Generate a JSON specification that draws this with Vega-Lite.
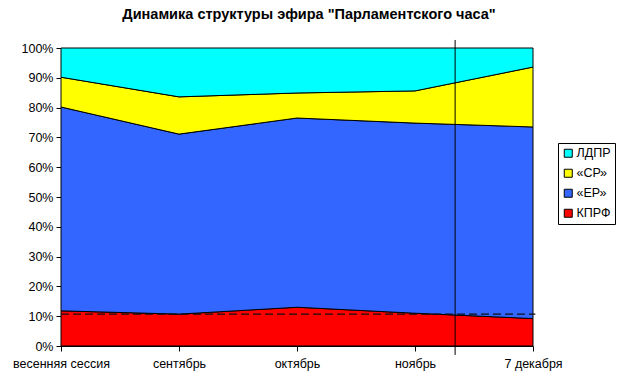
{
  "$schema": "https://vega.github.io/schema/vega-lite/v6.json",
  "width": 472,
  "height": 298,
  "autosize": "none",
  "padding": {"left": 61, "top": 48, "right": 90, "bottom": 42},
  "background": "white",
  "config": {
    "font": "Liberation Sans",
    "view": {"stroke": null},
    "axis": {"labelFont": "Liberation Sans", "labelFontSize": 12.5, "labelColor": "black", "domainColor": "black", "tickColor": "black", "grid": false, "labelOverlap": false, "labelFlush": false, "labelBound": false}
  },
  "title": {
    "text": "Динамика структуры эфира \"Парламентского часа\"",
    "font": "Liberation Sans",
    "fontSize": 14.5,
    "fontWeight": "bold",
    "color": "black",
    "anchor": "middle",
    "dx": 12,
    "offset": 17
  },
  "datasets": {
    "air": [
      {"period": "весенняя сессия", "i": 0, "party": "КПРФ", "rank": 1, "share": 11.8},
      {"period": "весенняя сессия", "i": 0, "party": "«ЕР»", "rank": 2, "share": 68.4},
      {"period": "весенняя сессия", "i": 0, "party": "«СР»", "rank": 3, "share": 10.0},
      {"period": "весенняя сессия", "i": 0, "party": "ЛДПР", "rank": 4, "share": 9.8},
      {"period": "сентябрь", "i": 1, "party": "КПРФ", "rank": 1, "share": 10.7},
      {"period": "сентябрь", "i": 1, "party": "«ЕР»", "rank": 2, "share": 60.4},
      {"period": "сентябрь", "i": 1, "party": "«СР»", "rank": 3, "share": 12.5},
      {"period": "сентябрь", "i": 1, "party": "ЛДПР", "rank": 4, "share": 16.4},
      {"period": "октябрь", "i": 2, "party": "КПРФ", "rank": 1, "share": 13.0},
      {"period": "октябрь", "i": 2, "party": "«ЕР»", "rank": 2, "share": 63.5},
      {"period": "октябрь", "i": 2, "party": "«СР»", "rank": 3, "share": 8.4},
      {"period": "октябрь", "i": 2, "party": "ЛДПР", "rank": 4, "share": 15.1},
      {"period": "ноябрь", "i": 3, "party": "КПРФ", "rank": 1, "share": 11.0},
      {"period": "ноябрь", "i": 3, "party": "«ЕР»", "rank": 2, "share": 63.8},
      {"period": "ноябрь", "i": 3, "party": "«СР»", "rank": 3, "share": 10.8},
      {"period": "ноябрь", "i": 3, "party": "ЛДПР", "rank": 4, "share": 14.4},
      {"period": "7 декабря", "i": 4, "party": "КПРФ", "rank": 1, "share": 9.2},
      {"period": "7 декабря", "i": 4, "party": "«ЕР»", "rank": 2, "share": 64.3},
      {"period": "7 декабря", "i": 4, "party": "«СР»", "rank": 3, "share": 20.1},
      {"period": "7 декабря", "i": 4, "party": "ЛДПР", "rank": 4, "share": 6.4}
    ]
  },
  "layer": [
    {
      "data": {"name": "air"},
      "mark": {"type": "area", "stroke": "black", "strokeWidth": 1, "opacity": 1},
      "encoding": {
        "x": {
          "field": "i", "type": "quantitative",
          "scale": {"domain": [0, 4], "nice": false, "zero": false},
          "axis": {
            "title": null, "values": [0, 1, 2, 3, 4], "tickSize": 5, "labelPadding": 6,
            "labelExpr": "['весенняя сессия','сентябрь','октябрь','ноябрь','7 декабря'][datum.value]"
          }
        },
        "y": {
          "field": "share", "type": "quantitative", "stack": "normalize",
          "scale": {"domain": [0, 1], "nice": false},
          "axis": {"title": null, "format": ".0%", "values": [0, 0.1, 0.2, 0.3, 0.4, 0.5, 0.6, 0.7, 0.8, 0.9, 1], "tickCount": 11, "labelOverlap": false, "tickSize": 5, "labelPadding": 3}
        },
        "color": {
          "field": "party", "type": "nominal",
          "scale": {"domain": ["ЛДПР", "«СР»", "«ЕР»", "КПРФ"], "range": ["#00FFFF", "#FFFF00", "#3366FF", "#FF0000"]},
          "legend": {
            "title": null, "orient": "none", "legendX": 497, "legendY": 95,
            "strokeColor": "black", "padding": 4, "fillColor": "white",
            "symbolType": "square", "symbolSize": 64, "symbolStrokeColor": "black", "symbolStrokeWidth": 1, "symbolOpacity": 1,
            "labelFont": "Liberation Sans", "labelFontSize": 12.5, "labelColor": "black", "rowPadding": 7, "labelOffset": 2
          }
        },
        "order": {"field": "rank", "type": "quantitative"}
      }
    },
    {
      "data": {"values": [{}]},
      "mark": {"type": "rule", "color": "#111111", "strokeWidth": 1.3, "strokeDash": [8, 4]},
      "encoding": {
        "x": {"datum": 0},
        "x2": {"datum": 4.02},
        "y": {"datum": 0.107}
      }
    },
    {
      "data": {"values": [{}]},
      "mark": {"type": "rule", "color": "black", "strokeWidth": 1},
      "encoding": {
        "x": {"datum": 3.34},
        "y": {"datum": 1.027},
        "y2": {"datum": -0.03}
      }
    }
  ]
}
